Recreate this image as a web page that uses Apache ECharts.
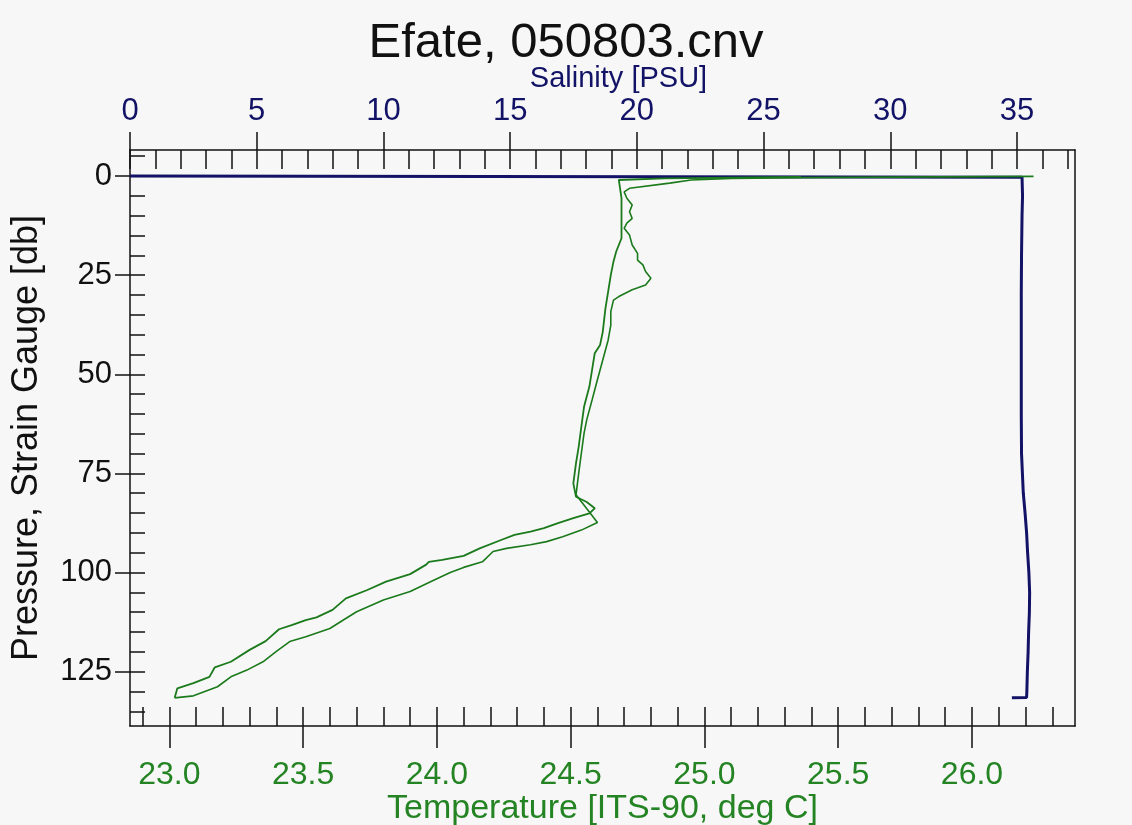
<!DOCTYPE html>
<html>
<head>
<meta charset="utf-8">
<script src="https://cdn.jsdelivr.net/npm/echarts@6/dist/echarts.min.js"></script>
<style>
html,body{margin:0;padding:0;background:#f7f7f7;}
#chart{width:1132px;height:825px;}
</style>
</head>
<body>
<div id="chart"></div>
<script>
// ---- Data ----
const titleText = 'Efate, 050803.cnv';
const temperatureName = 'Temperature [ITS-90, deg C]';
const salinityName = 'Salinity [PSU]';
const pressureName = 'Pressure, Strain Gauge [db]';

// axis extents
const temperatureRange = [22.853, 26.385];
const salinityRange = [0, 37.29];
const pressureRange = [-6.56, 138.7];

// tick values
const temperatureMajorTicks = [23.0, 23.5, 24.0, 24.5, 25.0, 25.5, 26.0];
const temperatureMinorTicks = [22.9,23.0,23.1,23.2,23.3,23.4,23.5,23.6,23.7,23.8,23.9,24.0,24.1,24.2,24.3,24.4,24.5,24.6,24.7,24.8,24.9,25.0,25.1,25.2,25.3,25.4,25.5,25.6,25.7,25.8,25.9,26.0,26.1,26.2,26.3];
const salinityMajorTicks = [0, 5, 10, 15, 20, 25, 30, 35];
const salinityMinorTicks = [0,1,2,3,4,5,6,7,8,9,10,11,12,13,14,15,16,17,18,19,20,21,22,23,24,25,26,27,28,29,30,31,32,33,34,35,36,37];
const pressureMajorTicks = [0, 25, 50, 75, 100, 125];
const pressureMinorTicks = [-5,0,5,10,15,20,25,30,35,40,45,50,55,60,65,70,75,80,85,90,95,100,105,110,115,120,125,130,135];

// temperature [deg C, db] : downcast
const temperatureDown = [
  [25.36,0.2],[24.85,0.6],[24.68,1.0],[24.69,5.6],[24.69,12.4],[24.69,15.7],[24.67,19.1],
  [24.66,21.6],[24.65,25.0],[24.64,29.2],[24.63,33.4],[24.62,39.3],[24.61,42.6],[24.59,44.7],
  [24.58,48.9],[24.57,53.1],[24.55,58.2],[24.54,63.2],[24.53,68.3],[24.52,72.4],[24.51,77.5],
  [24.52,80.9],[24.56,82.2],[24.59,83.8],[24.57,85.1],[24.51,86.3],[24.45,87.6],[24.40,88.8],
  [24.35,89.7],[24.29,90.5],[24.24,91.8],[24.16,93.9],[24.10,95.8],[24.02,96.8],[23.97,97.3],
  [23.96,98.0],[23.90,100.4],[23.81,102.3],[23.74,104.4],[23.66,106.5],[23.61,109.4],
  [23.55,111.3],[23.51,112.0],[23.46,113.2],[23.41,114.3],[23.36,117.3],[23.30,119.5],
  [23.23,122.5],[23.17,123.9],[23.15,126.3],[23.09,127.9],[23.03,129.2],[23.02,131.6]
];
// temperature [deg C, db] : upcast
const temperatureUp = [
  [23.02,131.6],[23.09,131.1],[23.18,128.8],[23.23,126.3],[23.29,124.6],[23.35,122.5],
  [23.40,119.9],[23.45,117.4],[23.51,116.2],[23.60,114.1],[23.64,112.4],[23.70,109.9],
  [23.80,106.9],[23.90,104.8],[23.99,101.9],[24.05,100.0],[24.10,98.7],[24.17,97.3],
  [24.21,94.7],[24.26,93.9],[24.35,93.0],[24.41,92.2],[24.47,91.0],[24.54,89.3],[24.60,87.4],
  [24.52,80.4],[24.53,75.0],[24.54,69.9],[24.55,64.9],[24.56,61.5],[24.58,56.5],[24.60,51.4],
  [24.62,46.4],[24.64,41.4],[24.65,37.6],[24.65,34.2],[24.66,31.3],[24.68,30.4],[24.73,28.7],
  [24.78,27.5],[24.80,25.8],[24.78,24.1],[24.77,22.4],[24.75,21.2],[24.75,19.5],[24.73,17.4],
  [24.72,14.9],[24.70,13.2],[24.71,11.9],[24.73,10.7],[24.72,9.0],[24.73,7.3],[24.71,5.6],
  [24.70,4.0],[24.72,3.1],[24.87,1.8],[24.95,1.0],[25.10,0.6],[25.36,0.4],[26.23,0.1]
];
// salinity [PSU, db]
const salinity = [
  [0.0,0.0],[35.20,0.3],[35.22,5],[35.20,10],[35.18,20],[35.17,30],[35.17,40],[35.17,50],
  [35.17,60],[35.18,70],[35.25,80],[35.32,85],[35.38,90],[35.42,95],[35.47,100],[35.50,105],
  [35.49,110],[35.46,115],[35.44,120],[35.41,125],[35.39,130],[35.38,131.5],[34.8,131.6]
];

// ---- Styling ----
const FONT = '"Liberation Sans", Arial, sans-serif';
const GREEN = '#248424';
const LINE_GREEN = '#1b7a1b';
const NAVY = '#121266';
const AXIS = '#111111';

const chart = echarts.init(document.getElementById('chart'), null, {renderer: 'canvas'});

const lineStyle = {color: AXIS, width: 1.5};

const option = {
  backgroundColor: '#f7f7f7',
  animation: false,
  title: {
    text: titleText, left: 'center', top: 14,
    textStyle: {fontFamily: FONT, fontSize: 49, fontWeight: 'normal', color: '#111'}
  },
  grid: {left: 130, top: 150, right: 57, bottom: 99, containLabel: false, outerBoundsMode: 'none'},
  xAxis: [
    { // temperature main (labels, outward major ticks)
      type: 'value', position: 'bottom', min: temperatureRange[0], max: temperatureRange[1],
      name: temperatureName, nameLocation: 'middle', nameGap: 66, nameMoveOverlap: false,
      nameTextStyle: {fontFamily: FONT, fontSize: 34, color: GREEN},
      axisLine: {show: true, onZero: false, lineStyle: lineStyle},
      axisTick: {show: true, inside: false, length: 22, customValues: temperatureMajorTicks, lineStyle: lineStyle},
      axisLabel: {show: true, customValues: temperatureMajorTicks, margin: 33,
        formatter: v => Number(v).toFixed(1),
        fontFamily: FONT, fontSize: 32, color: GREEN},
      splitLine: {show: false}
    },
    { // temperature inner ticks
      type: 'value', position: 'bottom', min: temperatureRange[0], max: temperatureRange[1],
      axisLine: {show: false, onZero: false},
      axisTick: {show: true, inside: true, length: 19, customValues: temperatureMinorTicks, lineStyle: lineStyle},
      axisLabel: {show: false}, splitLine: {show: false}
    },
    { // salinity main
      type: 'value', position: 'top', min: salinityRange[0], max: salinityRange[1],
      name: salinityName, nameLocation: 'middle', nameGap: 57, nameMoveOverlap: false,
      nameTextStyle: {fontFamily: FONT, fontSize: 29, color: NAVY, padding: [0, 0, 0, 32]},
      axisLine: {show: true, onZero: false, lineStyle: lineStyle},
      axisTick: {show: true, inside: false, length: 18, customValues: salinityMajorTicks, lineStyle: lineStyle},
      axisLabel: {show: true, customValues: salinityMajorTicks, margin: 23,
        fontFamily: FONT, fontSize: 31, color: NAVY},
      splitLine: {show: false}
    },
    { // salinity inner ticks
      type: 'value', position: 'top', min: salinityRange[0], max: salinityRange[1],
      axisLine: {show: false, onZero: false},
      axisTick: {show: true, inside: true, length: 19, customValues: salinityMinorTicks, lineStyle: lineStyle},
      axisLabel: {show: false}, splitLine: {show: false}
    }
  ],
  yAxis: [
    { // pressure main
      type: 'value', position: 'left', inverse: true, min: pressureRange[0], max: pressureRange[1],
      name: pressureName, nameLocation: 'middle', nameGap: 85, nameRotate: 90, nameMoveOverlap: false,
      nameTextStyle: {fontFamily: FONT, fontSize: 36, color: '#111'},
      axisLine: {show: true, onZero: false, lineStyle: lineStyle},
      axisTick: {show: true, inside: false, length: 15, customValues: pressureMajorTicks, lineStyle: lineStyle},
      axisLabel: {show: true, customValues: pressureMajorTicks, margin: 18,
        fontFamily: FONT, fontSize: 31, color: '#111'},
      splitLine: {show: false}
    },
    { // pressure inner ticks
      type: 'value', position: 'left', inverse: true, min: pressureRange[0], max: pressureRange[1],
      axisLine: {show: false, onZero: false},
      axisTick: {show: true, inside: true, length: 15, customValues: pressureMinorTicks, lineStyle: lineStyle},
      axisLabel: {show: false}, splitLine: {show: false}
    },
    { // right frame line
      type: 'value', position: 'right', inverse: true, min: pressureRange[0], max: pressureRange[1],
      axisLine: {show: true, onZero: false, lineStyle: lineStyle},
      axisTick: {show: false}, axisLabel: {show: false}, splitLine: {show: false}
    }
  ],
  series: [
    {
      name: 'Salinity', type: 'line', xAxisIndex: 2, yAxisIndex: 0,
      data: salinity, showSymbol: false, symbol: 'none',
      lineStyle: {color: NAVY, width: 3}, z: 3
    },
    {
      name: 'Temperature down', type: 'line', xAxisIndex: 0, yAxisIndex: 0,
      data: temperatureDown, showSymbol: false, symbol: 'none',
      lineStyle: {color: LINE_GREEN, width: 1.8}, z: 4
    },
    {
      name: 'Temperature up', type: 'line', xAxisIndex: 0, yAxisIndex: 0,
      data: temperatureUp, showSymbol: false, symbol: 'none',
      lineStyle: {color: LINE_GREEN, width: 1.6}, z: 4
    }
  ]
};
chart.setOption(option);
</script>
</body>
</html>
